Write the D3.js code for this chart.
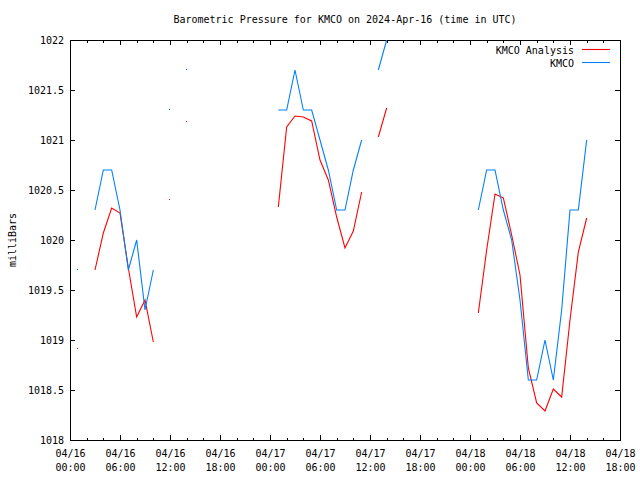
<!DOCTYPE html>
<html><head><meta charset="utf-8">
<script src="https://cdn.jsdelivr.net/npm/d3@7"></script>
<style>
body{margin:0;background:#fff}
text{font-family:"DejaVu Sans Mono",monospace;font-size:10px;fill:#000}
</style>
</head><body><svg id="c" width="640" height="480"></svg>
<script>
const titleText = "Barometric Pressure for KMCO on 2024-Apr-16 (time in UTC)";
const yLabel = "milliBars";
const startTime = "2024-04-16T00:00Z";
const endTime = "2024-04-18T18:00Z";
const seriesNames = ["KMCO Analysis", "KMCO"];
const seriesColors = ["#ff0000", "#0080ff"];
const yTicks = [1018, 1018.5, 1019, 1019.5, 1020, 1020.5, 1021, 1021.5, 1022];
// hours after 2024-04-16 00:00 UTC
const hourOffsets = [0,1,2,3,4,5,6,7,8,9,10,11,12,13,14,15,16,17,18,19,20,21,22,23,24,25,26,27,28,29,30,31,32,33,34,35,36,37,38,39,40,41,42,43,44,45,46,47,48,49,50,51,52,53,54,55,56,57,58,59,60,61,62];
const analysis = [null,1018.91,null,1019.70,1020.07,1020.32,1020.27,1019.72,1019.23,1019.40,1018.98,null,1020.40,null,1021.18,
  null,null,null,null,null,null,null,null,null,null,
  1020.33,1021.13,1021.24,1021.23,1021.19,1020.80,1020.60,1020.23,1019.92,1020.09,1020.48,null,1021.03,1021.32,
  null,null,null,null,null,null,null,null,null,null,
  1019.27,1019.90,1020.46,1020.42,1020.05,1019.65,1018.72,1018.37,1018.29,1018.51,1018.43,1019.20,1019.88,1020.22];
const kmco = [null,1019.70,null,1020.30,1020.70,1020.70,1020.30,1019.70,1020.00,1019.30,1019.70,null,1021.30,null,1021.70,
  null,null,null,null,null,null,null,null,null,null,
  1021.30,1021.30,1021.70,1021.30,1021.30,1021.00,1020.70,1020.30,1020.30,1020.70,1021.00,null,1021.70,1022.00,
  null,null,null,null,null,null,null,null,null,null,
  1020.30,1020.70,1020.70,1020.30,1020.00,1019.40,1018.60,1018.60,1019.00,1018.60,1019.30,1020.30,1020.30,1021.00];

const L = 70, R = 620, T = 40, B = 440;
const svg = d3.select("#c");
const t0 = new Date(startTime);
const x = d3.scaleUtc().domain([t0, new Date(endTime)]).range([L, R]);
const y = d3.scaleLinear().domain([1018, 1022]).range([B, T]);
const times = hourOffsets.map(h => d3.utcHour.offset(t0, h));

// axes
const majorT = x.ticks(d3.utcHour.every(6));
const minorT = x.ticks(d3.utcHour.every(2));
const fmtY = d => String(d);

function styleAxis(g){ g.select(".domain").remove(); g.selectAll("line").attr("stroke","#000").attr("shape-rendering","crispEdges"); }

svg.append("g").attr("transform",`translate(0,${B})`)
  .call(d3.axisBottom(x).tickValues(minorT).tickSize(-2.5).tickFormat("")).call(styleAxis);
const xb = svg.append("g").attr("transform",`translate(0,${B})`)
  .call(d3.axisBottom(x).tickValues(majorT).tickSize(-5).tickPadding(10).tickFormat(d => "")).call(styleAxis);
xb.selectAll(".tick text").each(function(d){
  const t = d3.select(this).attr("y", null).attr("dy", null);
  t.append("tspan").attr("x",0).attr("y",17).text(d3.utcFormat("%m/%d")(d));
  t.append("tspan").attr("x",0).attr("y",31).text(d3.utcFormat("%H:%M")(d));
});
xb.selectAll("text").attr("font-family",null).attr("font-size",null).attr("fill","#000");

svg.append("g").attr("transform",`translate(0,${T})`)
  .call(d3.axisTop(x).tickValues(minorT).tickSize(-2.5).tickFormat("")).call(styleAxis);
svg.append("g").attr("transform",`translate(0,${T})`)
  .call(d3.axisTop(x).tickValues(majorT).tickSize(-5).tickFormat("")).call(styleAxis);

const yl = svg.append("g").attr("transform",`translate(${L},0)`)
  .call(d3.axisLeft(y).tickValues(yTicks).tickSize(-5).tickPadding(6).tickFormat(fmtY)).call(styleAxis);
yl.selectAll("text").attr("font-family",null).attr("font-size",null).attr("fill","#000").attr("dy","0.35em");
svg.append("g").attr("transform",`translate(${R},0)`)
  .call(d3.axisRight(y).tickValues(yTicks).tickSize(-5).tickFormat("")).call(styleAxis);

// border
svg.append("rect").attr("x",L).attr("y",T).attr("width",R-L).attr("height",B-T)
  .attr("fill","none").attr("stroke","#000").attr("shape-rendering","crispEdges");

// series
const series = [analysis, kmco];
series.forEach((vals, i) => {
  const pts = vals.map((v, k) => ({t: times[k], v}));
  const line = d3.line().defined(d => d.v != null).x(d => x(d.t)).y(d => y(d.v));
  svg.append("path").datum(pts).attr("d", line).attr("fill","none")
    .attr("stroke", seriesColors[i]).attr("stroke-width",1.1);
  const iso = pts.filter((d, k) => d.v != null && (k === 0 || vals[k-1] == null) && (k === vals.length-1 || vals[k+1] == null));
  svg.selectAll(null).data(iso).enter().append("rect")
    .attr("x", d => Math.round(x(d.t)) - 1).attr("y", d => Math.round(y(d.v)) - 1)
    .attr("width",1).attr("height",1).attr("shape-rendering","crispEdges").attr("fill", seriesColors[i]);
});

// legend
seriesNames.forEach((name, i) => {
  const yy = 49.5 + i * 13;
  svg.append("text").attr("x",574).attr("y",yy+4).attr("text-anchor","end").text(name);
  svg.append("line").attr("x1",582).attr("x2",610).attr("y1",yy).attr("y2",yy)
    .attr("stroke",seriesColors[i]).attr("stroke-width",1.1);
});

// title & y label
svg.append("text").attr("x",345).attr("y",23).attr("text-anchor","middle").text(titleText);
svg.append("text").attr("transform","translate(16,240) rotate(-90)").attr("text-anchor","middle").text(yLabel);
</script></body></html>
